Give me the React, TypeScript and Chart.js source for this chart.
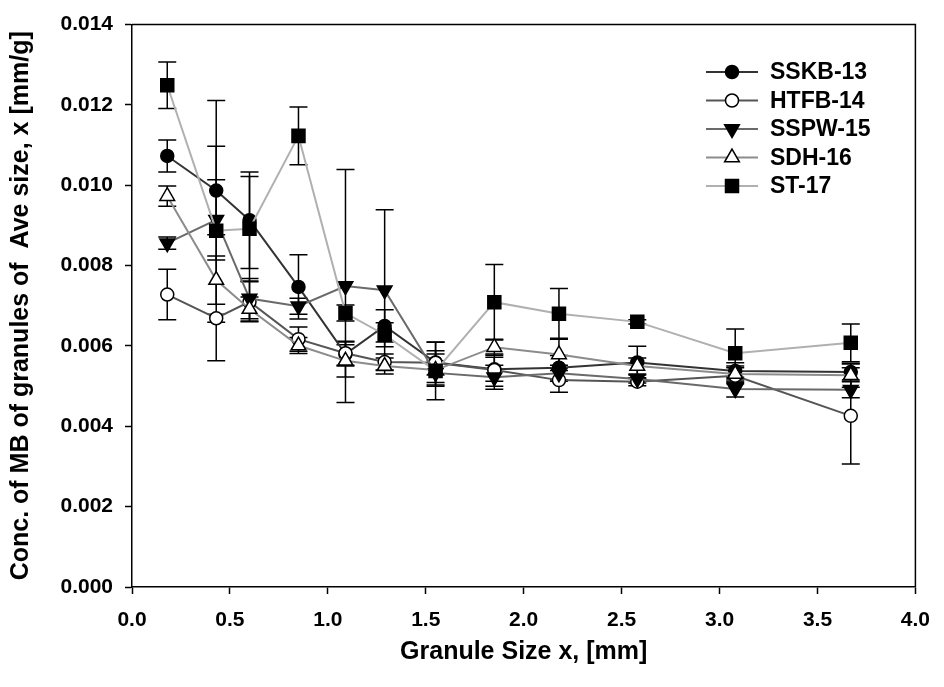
import React, { useEffect, useRef } from "react";
import { Chart, registerables } from "chart.js";

Chart.register(...registerables);

const granuleSizes = [0.18, 0.43, 0.60, 0.85, 1.09, 1.29, 1.55, 1.85, 2.18, 2.58, 3.08, 3.67];

const seriesNames = ["SSKB-13", "HTFB-14", "SSPW-15", "SDH-16", "ST-17"];

const sskb13 = [0.01073, 0.00987, 0.00913, 0.00747, 0.00580, 0.00650, 0.00559, 0.00542, 0.00546, 0.00559, 0.00538, 0.00535];
const htfb14 = [0.00728, 0.00669, 0.00710, 0.00617, 0.00582, 0.00560, 0.00558, 0.00540, 0.00515, 0.00511, 0.00526, 0.00426];
const sspw15 = [0.00856, 0.00914, 0.00718, 0.00699, 0.00749, 0.00739, 0.00533, 0.00522, 0.00532, 0.00518, 0.00493, 0.00491];
const sdh16 = [0.00973, 0.00764, 0.00692, 0.00601, 0.00563, 0.00550, 0.00540, 0.00597, 0.00579, 0.00550, 0.00530, 0.00527];
const st17 = [0.01249, 0.00887, 0.00892, 0.01123, 0.00682, 0.00628, 0.00538, 0.00709, 0.00680, 0.00660, 0.00582, 0.00608];

const sskb13Err = [0.0004, 0.0011, 0.0012, 0.0008, 0.0003, 0.0004, 0.0005, 0.0003, 0.0003, 0.0004, 0.0002, 0.0002];
const htfb14Err = [0.00063, 0.0001, 0.0005, 0.0003, 0.0003, 0.0002, 0.0003, 0.0004, 0.0003, 0.0001, 0.0002, 0.0012];
const sspw15Err = [0.00015, 0.0010, 0.0005, 0.0002, 0.0029, 0.0020, 0.0003, 0.0003, 0.0002, 0.0001, 0.0002, 0.0002];
const sdh16Err = [0.00025, 0.0006, 0.0003, 0.0002, 0.0004, 0.0002, 0.0004, 0.0002, 0.0004, 0.0002, 0.0002, 0.0003];
const st17Err = [0.00058, 0.00324, 0.0013, 0.00072, 0.0002, 0.0003, 0.00072, 0.00094, 0.00063, 0.00005, 0.0006, 0.00047];

const xTickValues = [0, 0.5, 1, 1.5, 2, 2.5, 3, 3.5, 4];
const yTickValues = [0, 0.002, 0.004, 0.006, 0.008, 0.01, 0.012, 0.014];

const xTitle = "Granule Size x, [mm]";
const yTitle = "Conc. of MB of granules of  Ave size, x [mm/g]";

const FONT = "'Liberation Sans', Arial, sans-serif";

type Style = { color: string; point: string; fill: string; radius: number; rotation: number };

const styles: Style[] = [
  { color: "#333333", point: "circle", fill: "#000000", radius: 6.5, rotation: 0 },
  { color: "#555555", point: "circle", fill: "#ffffff", radius: 6.5, rotation: 0 },
  { color: "#6a6a6a", point: "triangle", fill: "#000000", radius: 8.5, rotation: 180 },
  { color: "#8c8c8c", point: "triangle", fill: "#ffffff", radius: 8.5, rotation: 0 },
  { color: "#b0b0b0", point: "rect", fill: "#000000", radius: 9.2, rotation: 0 },
];

const values = [sskb13, htfb14, sspw15, sdh16, st17];
const errors = [sskb13Err, htfb14Err, sspw15Err, sdh16Err, st17Err];

function drawMarker(ctx: CanvasRenderingContext2D, s: Style, x: number, y: number) {
  ctx.beginPath();
  if (s.point === "circle") {
    ctx.arc(x, y, s.radius, 0, Math.PI * 2);
  } else if (s.point === "rect") {
    const h = s.radius * Math.SQRT1_2;
    ctx.rect(x - h, y - h, 2 * h, 2 * h);
  } else {
    const r = s.radius;
    const dir = s.rotation === 180 ? 1 : -1;
    const a = (Math.PI * 2) / 3;
    for (let k = 0; k < 3; k++) {
      const ang = k * a;
      const px = x + Math.sin(ang) * r;
      const py = y + dir * Math.cos(ang) * r;
      if (k === 0) ctx.moveTo(px, py);
      else ctx.lineTo(px, py);
    }
    ctx.closePath();
  }
  ctx.fill();
  ctx.stroke();
}

const errorBarPlugin = {
  id: "errorBars",
  beforeDatasetsDraw(chart: any) {
    const { ctx } = chart;
    const xs = chart.scales.x;
    const ys = chart.scales.y;
    ctx.save();
    ctx.strokeStyle = "#000";
    ctx.lineWidth = 1.5;
    errors.forEach((errArr, si) => {
      errArr.forEach((e, i) => {
        const v = values[si][i];
        const px = xs.getPixelForValue(granuleSizes[i]);
        const top = ys.getPixelForValue(v + e);
        const bot = ys.getPixelForValue(v - e);
        ctx.beginPath();
        ctx.moveTo(px, top);
        ctx.lineTo(px, bot);
        ctx.moveTo(px - 9, top);
        ctx.lineTo(px + 9, top);
        ctx.moveTo(px - 9, bot);
        ctx.lineTo(px + 9, bot);
        ctx.stroke();
      });
    });
    ctx.restore();
  },
  afterDraw(chart: any) {
    const { ctx, chartArea } = chart;
    ctx.save();
    ctx.strokeStyle = "#000";
    ctx.lineWidth = 1.5;
    ctx.beginPath();
    ctx.moveTo(chartArea.left, chartArea.top);
    ctx.lineTo(chartArea.right, chartArea.top);
    ctx.lineTo(chartArea.right, chartArea.bottom);
    ctx.stroke();

    const lx0 = 706, lx1 = 758, mx = 732, tx = 770;
    const ly = [72, 100.5, 129, 157.5, 186];
    seriesNames.forEach((name, i) => {
      const s = styles[i];
      const y = ly[i];
      ctx.strokeStyle = s.color;
      ctx.lineWidth = 2;
      ctx.beginPath();
      ctx.moveTo(lx0, y);
      ctx.lineTo(lx1, y);
      ctx.stroke();
      ctx.fillStyle = s.fill;
      ctx.strokeStyle = "#000";
      ctx.lineWidth = 1.5;
      drawMarker(ctx, s, mx, y);
      ctx.fillStyle = "#000";
      ctx.font = `bold 23px ${FONT}`;
      ctx.textAlign = "left";
      ctx.textBaseline = "middle";
      ctx.fillText(name, tx, y + 1);
    });
    ctx.restore();
  },
};

export default function App() {
  const ref = useRef<HTMLCanvasElement>(null);
  useEffect(() => {
    document.body.style.margin = "0";
    const canvas = ref.current!;
    const datasets = seriesNames.map((name, i) => ({
      label: name,
      data: granuleSizes.map((x, j) => ({ x, y: values[i][j] })),
      borderColor: styles[i].color,
      borderWidth: 2,
      pointStyle: styles[i].point,
      pointRotation: styles[i].rotation,
      pointRadius: styles[i].radius,
      pointBackgroundColor: styles[i].fill,
      pointBorderColor: "#000",
      pointBorderWidth: 1.5,
      showLine: true,
      tension: 0,
      order: 5 - i,
    }));
    const chart = new Chart(canvas, {
      type: "scatter",
      data: { datasets },
      options: {
        animation: false,
        responsive: false,
        layout: { padding: { left: 0, right: 21, top: 18, bottom: 0 } },
        plugins: { legend: { display: false }, tooltip: { enabled: false } },
        scales: {
          x: {
            type: "linear",
            min: 0,
            max: 4,
            afterFit(scale: any) {
              scale.height = 100;
            },
            afterBuildTicks(scale: any) {
              scale.ticks = xTickValues.map((v) => ({ value: v }));
            },
            ticks: {
              callback: (v: any) => Number(v).toFixed(1),
              font: { family: FONT, size: 21, weight: "bold" },
              color: "#000",
              padding: 14,
              maxRotation: 0,
            },
            grid: { drawOnChartArea: false, drawTicks: true, tickLength: 7, tickColor: "#000", tickWidth: 1.5 },
            border: { display: true, color: "#000", width: 1.5 },
            title: {
              display: true,
              text: xTitle,
              font: { family: FONT, size: 25, weight: "bold" },
              color: "#000",
              padding: { top: 0, bottom: 20 },
            },
          },
          y: {
            type: "linear",
            min: 0,
            max: 0.014,
            afterFit(scale: any) {
              scale.width = 132;
            },
            afterBuildTicks(scale: any) {
              scale.ticks = yTickValues.map((v) => ({ value: v }));
            },
            ticks: {
              callback: (v: any) => Number(v).toFixed(3),
              font: { family: FONT, size: 21, weight: "bold" },
              color: "#000",
              padding: 12,
            },
            grid: { drawOnChartArea: false, drawTicks: true, tickLength: 7, tickColor: "#000", tickWidth: 1.5 },
            border: { display: true, color: "#000", width: 1.5 },
            title: {
              display: true,
              text: yTitle,
              font: { family: FONT, size: 25, weight: "bold" },
              color: "#000",
              padding: { top: 6, bottom: 0 },
            },
          },
        },
      },
      plugins: [errorBarPlugin],
    } as any);
    return () => chart.destroy();
  }, []);
  return (
    <div style={{ position: "absolute", left: 0, top: 0, width: 944, height: 687, background: "#fff" }}>
      <canvas ref={ref} width={944} height={687} style={{ width: 944, height: 687 }} />
    </div>
  );
}
